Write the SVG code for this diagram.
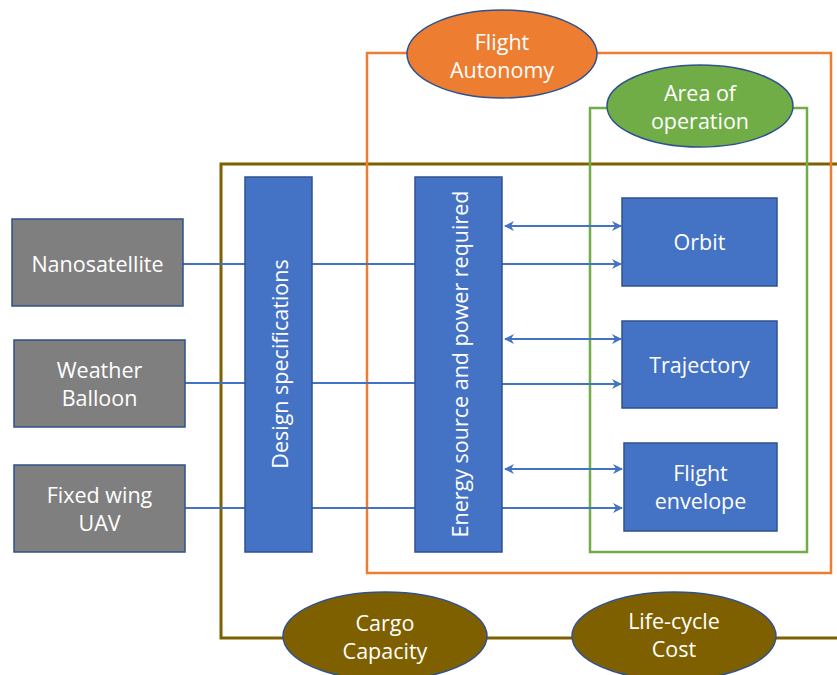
<svg xmlns="http://www.w3.org/2000/svg" width="837" height="675" viewBox="0 0 837 675">
<defs>
<marker id="ah" viewBox="0 0 10 10" refX="9" refY="5" markerWidth="5" markerHeight="5" orient="auto-start-reverse" markerUnits="strokeWidth">
<path d="M0,0 L10,5 L0,10 L3,5 Z" fill="#4472C4"/>
</marker>
<style>
text{font-family:"Open Sans","Liberation Sans",sans-serif;font-size:21.5px;fill:#fff;text-anchor:middle}
.grey{fill:#7F7F7F;stroke:#2F528F;stroke-width:1.5}
.blue{fill:#4472C4;stroke:#2F528F;stroke-width:1.5}
.ell{stroke:#2F528F;stroke-width:1.5}
.conn{stroke:#4472C4;stroke-width:2;fill:none}
.frame{fill:none}
</style>
</defs>
<rect width="837" height="675" fill="#fff"/>
<g id="frames">
<path class="frame" d="M837,164 H221 V638 H837" stroke="#7F6000" stroke-width="3"/>
<rect class="frame" x="367" y="53" width="464" height="520" stroke="#ED7D31" stroke-width="2.5"/>
<rect class="frame" x="590" y="108" width="217" height="444" stroke="#70AD47" stroke-width="2.5"/>
</g>
<g id="connectors">
<line class="conn" x1="183" y1="264" x2="415" y2="264"/>
<line class="conn" x1="185" y1="383" x2="415" y2="383"/>
<line class="conn" x1="185" y1="508" x2="415" y2="508"/>
<line class="conn" x1="502" y1="264" x2="621" y2="264" marker-end="url(#ah)"/>
<line class="conn" x1="502" y1="384" x2="621" y2="384" marker-end="url(#ah)"/>
<line class="conn" x1="502" y1="508" x2="622" y2="508" marker-end="url(#ah)"/>
<line class="conn" x1="505" y1="226" x2="621" y2="226" marker-start="url(#ah)" marker-end="url(#ah)"/>
<line class="conn" x1="505" y1="339" x2="621" y2="339" marker-start="url(#ah)" marker-end="url(#ah)"/>
<line class="conn" x1="505" y1="469" x2="622" y2="469" marker-start="url(#ah)" marker-end="url(#ah)"/>
</g>
<g id="nanosatellite">
<rect class="grey" x="12" y="219" width="171" height="87"/>
<text x="97.5" y="272">Nanosatellite</text>
</g>
<g id="weather-balloon">
<rect class="grey" x="14" y="340" width="171" height="87"/>
<text x="99.5" y="378">Weather</text>
<text x="99.5" y="406">Balloon</text>
</g>
<g id="fixed-wing-uav">
<rect class="grey" x="14" y="465" width="171" height="87"/>
<text x="99.5" y="503">Fixed wing</text>
<text x="99.5" y="531">UAV</text>
</g>
<g id="design-specifications">
<rect class="blue" x="245" y="177" width="67" height="375"/>
<text transform="translate(288,364) rotate(-90)">Design specifications</text>
</g>
<g id="energy-source">
<rect class="blue" x="415" y="177" width="87" height="375"/>
<text transform="translate(468,364) rotate(-90)">Energy source and power required</text>
</g>
<g id="orbit">
<rect class="blue" x="622" y="198" width="155" height="88"/>
<text x="699.5" y="250">Orbit</text>
</g>
<g id="trajectory">
<rect class="blue" x="622" y="321" width="155" height="87"/>
<text x="699.5" y="373">Trajectory</text>
</g>
<g id="flight-envelope">
<rect class="blue" x="624" y="443" width="153" height="88"/>
<text x="700.5" y="481">Flight</text>
<text x="700.5" y="509">envelope</text>
</g>
<g id="flight-autonomy">
<ellipse class="ell" cx="502" cy="54" rx="95" ry="44" fill="#ED7D31"/>
<text x="502" y="50">Flight</text>
<text x="502" y="78">Autonomy</text>
</g>
<g id="area-of-operation">
<ellipse class="ell" cx="700" cy="106" rx="93" ry="41" fill="#70AD47"/>
<text x="700" y="101">Area of</text>
<text x="700" y="129">operation</text>
</g>
<g id="cargo-capacity">
<ellipse class="ell" cx="385" cy="636" rx="102" ry="44" fill="#7F6000"/>
<text x="385" y="631">Cargo</text>
<text x="385" y="659">Capacity</text>
</g>
<g id="life-cycle-cost">
<ellipse class="ell" cx="674" cy="636" rx="102" ry="44" fill="#7F6000"/>
<text x="674" y="629">Life-cycle</text>
<text x="674" y="657">Cost</text>
</g>
</svg>
